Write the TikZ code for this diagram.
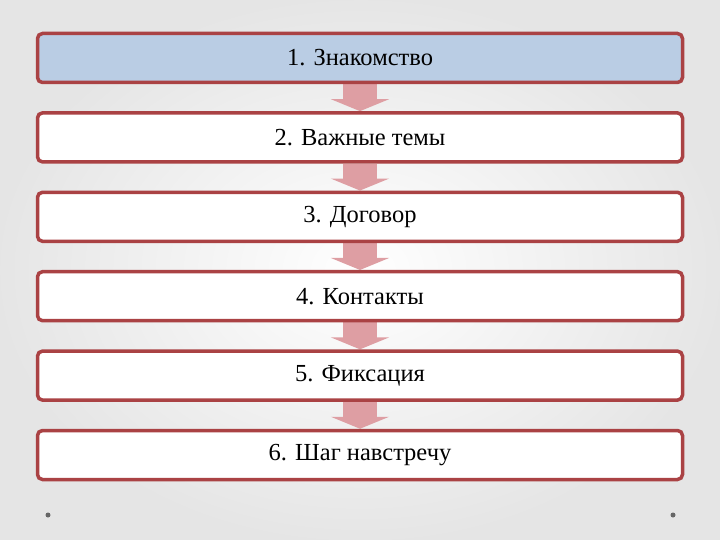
\documentclass[tikz,border=0pt]{standalone}
\usepackage{fontspec}
\setmainfont{Liberation Serif}
\usepackage{tikz}
\usetikzlibrary{arrows.meta,positioning,backgrounds}
\definecolor{stepred}{RGB}{170,66,68}
\definecolor{stepblue}{RGB}{186,205,228}
\definecolor{flowpink}{RGB}{222,158,163}
\tikzset{
  every node/.append style={font=\fontsize{24.5}{28}\selectfont},
}

\begin{document}
\begin{tikzpicture}[
    x=1pt, y=-1pt,
    node distance=79.4pt,
    stage/.style={rectangle, draw=stepred, line width=3.5pt, fill=white, rounded corners=5pt, minimum width=645pt, minimum height=49pt, align=center, text=black},
    flow/.style={-{Triangle[width=58pt,length=12pt]}, line width=34pt, draw=flowpink}
]
\useasboundingbox (0,0) rectangle (720,540);
\node[stage, fill=stepblue] (know) at (360,58) {1. Знакомство};
\node[stage, below of=know] (topics) {2. Важные темы};
\node[stage, below of=topics] (deal) {3. Договор};
\node[stage, below of=deal] (contacts) {4. Контакты};
\node[stage, below of=contacts] (fix) {5. Фиксация};
\node[stage, below of=fix] (meet) {6. Шаг навстречу};

\begin{scope}[on background layer]
  \shade[inner color=white, outer color=black!10] (0,0) rectangle (720,540);
  \draw[flow] (know) -- (topics);
  \draw[flow] (topics) -- (deal);
  \draw[flow] (deal) -- (contacts);
  \draw[flow] (contacts) -- (fix);
  \draw[flow] (fix) -- (meet);
\end{scope}

% corner dots
\fill[black!60] (48,515) circle (2.5pt) (673,515) circle (2.5pt);
\end{tikzpicture}
\end{document}
